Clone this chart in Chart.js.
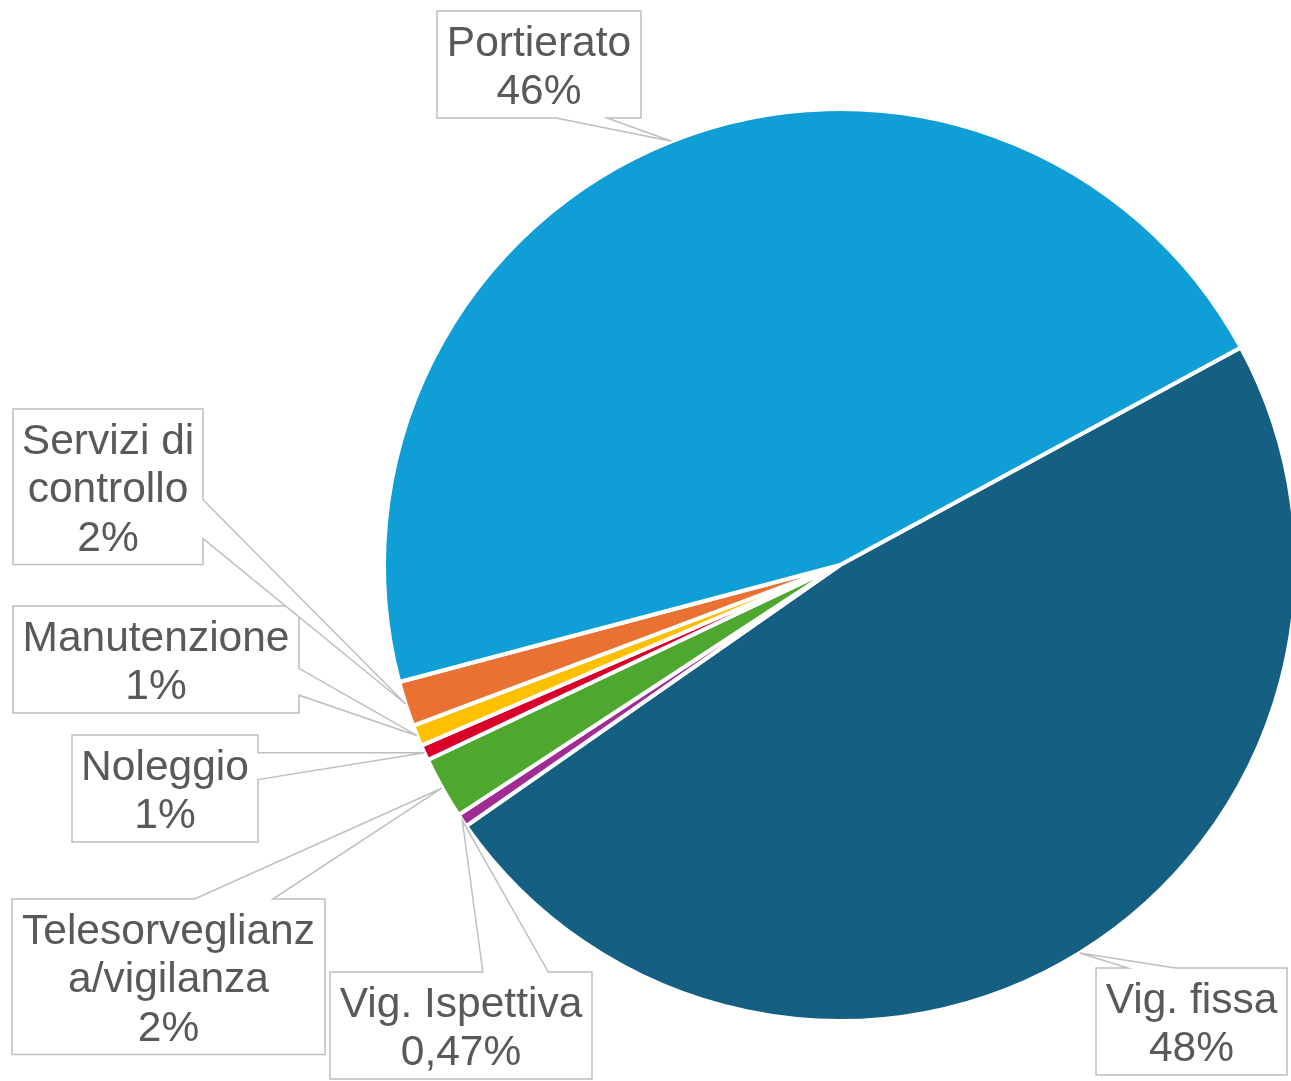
<!DOCTYPE html>
<html>
<head>
<meta charset="utf-8">
<script src="https://cdn.jsdelivr.net/npm/chart.js@4.4.1/dist/chart.umd.min.js"></script>
<style>
  html, body { margin: 0; padding: 0; background: #fff; }
  #wrap { width: 1291px; height: 1081px; position: relative; }
</style>
</head>
<body>
<div id="wrap"><canvas id="chart"></canvas></div>
<script>
// slices, clockwise from the Vig. fissa edge
const categories = ['Vig. fissa', 'Vig. Ispettiva', 'Telesorveglianza/vigilanza', 'Noleggio', 'Manutenzione', 'Servizi di controllo', 'Portierato'];
const shares = [48.2, 0.47, 2.2, 0.55, 0.75, 1.6, 46.2];
const sliceColors = ['#156082', '#A02B93', '#4EA72E', '#D9002A', '#FFC000', '#E97132', '#0F9ED5'];

// callout boxes (top-left corner + width), same order as categories
const calloutBoxes = [
    {x: 1096, y: 968, w: 191},
    {x: 330, y: 972, w: 262},
    {x: 12, y: 899, w: 313},
    {x: 72, y: 735, w: 186},
    {x: 13, y: 606, w: 286},
    {x: 13, y: 409, w: 190},
    {x: 437, y: 11, w: 204}
];

const FONT = '42.5px "Liberation Sans", Arial, sans-serif';
const LINE_H = 48.5;

function pctText(value, total) {
    const p = value / total * 100;
    if (Math.round(p) === 0) return p.toFixed(2).replace('.', ',') + '%';
    return Math.round(p) + '%';
}

function wrapText(ctx, text, maxW) {
    const words = text.split(' ');
    const lines = [];
    let cur = '';
    words.forEach(w => {
        const test = cur ? cur + ' ' + w : w;
        if (ctx.measureText(test).width <= maxW) { cur = test; return; }
        if (cur) lines.push(cur);
        cur = '';
        // break long words by characters
        let piece = '';
        for (const ch of w) {
            if (ctx.measureText(piece + ch).width > maxW && piece) { lines.push(piece); piece = ''; }
            piece += ch;
        }
        cur = piece;
    });
    if (cur) lines.push(cur);
    return lines;
}

function calloutPath(ctx, b, tip) {
    const L = b.x, R = b.x + b.w, T = b.y, B = b.y + b.h;
    const dx = (tip.x - (L + b.w / 2)) / b.w;
    const dy = (tip.y - (T + b.h / 2)) / b.h;
    let edge;
    if (Math.abs(dx) > Math.abs(dy)) edge = dx > 0 ? 'right' : 'left';
    else edge = dy > 0 ? 'bottom' : 'top';
    const ax = dx < 0 ? [2, 5] : [7, 10];
    const ay = dy < 0 ? [2, 5] : [7, 10];
    ctx.beginPath();
    ctx.moveTo(L, T);
    if (edge === 'top') {
        ctx.lineTo(L + b.w * ax[0] / 12, T);
        ctx.lineTo(tip.x, tip.y);
        ctx.lineTo(L + b.w * ax[1] / 12, T);
    }
    ctx.lineTo(R, T);
    if (edge === 'right') {
        ctx.lineTo(R, T + b.h * ay[0] / 12);
        ctx.lineTo(tip.x, tip.y);
        ctx.lineTo(R, T + b.h * ay[1] / 12);
    }
    ctx.lineTo(R, B);
    if (edge === 'bottom') {
        ctx.lineTo(L + b.w * ax[1] / 12, B);
        ctx.lineTo(tip.x, tip.y);
        ctx.lineTo(L + b.w * ax[0] / 12, B);
    }
    ctx.lineTo(L, B);
    if (edge === 'left') {
        ctx.lineTo(L, T + b.h * ay[1] / 12);
        ctx.lineTo(tip.x, tip.y);
        ctx.lineTo(L, T + b.h * ay[0] / 12);
    }
    ctx.closePath();
}

const calloutLabels = {
    id: 'calloutLabels',
    afterDatasetsDraw(chart) {
        const ctx = chart.ctx;
        const meta = chart.getDatasetMeta(0);
        const data = chart.data.datasets[0].data;
        const total = data.reduce((a, b) => a + b, 0);
        ctx.save();
        ctx.font = FONT;
        meta.data.forEach((arc, i) => {
            const {x, y, startAngle, endAngle, outerRadius} = arc.getProps(['x', 'y', 'startAngle', 'endAngle', 'outerRadius'], true);
            const mid = (startAngle + endAngle) / 2;
            const tip = {x: x + Math.cos(mid) * outerRadius, y: y + Math.sin(mid) * outerRadius};
            const box = calloutBoxes[i];
            const lines = wrapText(ctx, chart.data.labels[i], box.w - 14);
            lines.push(pctText(data[i], total));
            const b = {x: box.x, y: box.y, w: box.w, h: lines.length * LINE_H + 10};

            calloutPath(ctx, b, tip);
            ctx.fillStyle = '#ffffff';
            ctx.fill();
            ctx.strokeStyle = '#BFBFBF';
            ctx.lineWidth = 1.5;
            ctx.lineJoin = 'miter';
            ctx.stroke();

            ctx.fillStyle = '#595959';
            ctx.textAlign = 'center';
            ctx.textBaseline = 'alphabetic';
            lines.forEach((t, k) => {
                ctx.fillText(t, b.x + b.w / 2, b.y + 44.5 + k * LINE_H);
            });
        });
        ctx.restore();
    }
};

new Chart(document.getElementById('chart'), {
    type: 'pie',
    data: {
        labels: categories,
        datasets: [{
            data: shares,
            backgroundColor: sliceColors,
            borderColor: '#ffffff',
            borderWidth: 4,
            clip: false
        }]
    },
    options: {
        responsive: true,
        maintainAspectRatio: false,
        animation: false,
        rotation: 61.5,
        radius: 456,
        layout: { padding: { left: 389, right: 0, top: 49, bottom: 0 } },
        plugins: {
            legend: { display: false },
            tooltip: { enabled: false }
        }
    },
    plugins: [calloutLabels]
});
</script>
</body>
</html>
